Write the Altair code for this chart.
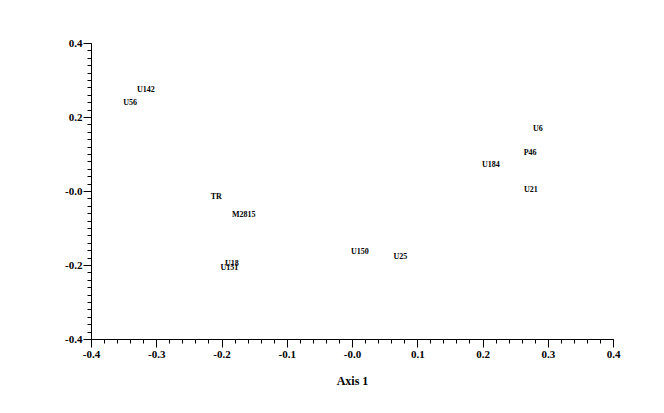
import altair as alt
import pandas as pd

labels = ["U142", "U56", "TR", "M2815", "U18", "U151", "U150", "U25", "U6", "P46", "U184", "U21"]
axis1 = [-0.316, -0.340, -0.208, -0.166, -0.184, -0.188, 0.012, 0.074, 0.285, 0.273, 0.213, 0.274]
axis2 = [0.272, 0.238, -0.016, -0.066, -0.196, -0.207, -0.165, -0.179, 0.167, 0.102, 0.070, 0.003]

major_x = [-0.4, -0.3, -0.2, -0.1, 0.0, 0.1, 0.2, 0.3, 0.4]
major_y = [-0.4, -0.2, 0.0, 0.2, 0.4]
minor_vals = [round(-0.4 + 0.02 * i, 2) for i in range(41)]

df = pd.DataFrame({"label": labels, "a1": axis1, "a2": axis2})

FONT = "Liberation Serif"
lab_expr = "datum.value == 0 ? '-0.0' : ((datum.value < 0 ? '-' : '') + format(abs(datum.value), '.1f'))"

xs = alt.Scale(domain=[-0.4, 0.4], nice=False, zero=False)
ys = alt.Scale(domain=[-0.4, 0.4], nice=False, zero=False)

texts = alt.Chart(df).mark_text(font=FONT, fontWeight="bold", fontSize=8, color="black").encode(
    x=alt.X("a1:Q", scale=xs, title="Axis 1",
            axis=alt.Axis(orient="bottom", values=major_x, labelExpr=lab_expr, tickSize=8,
                          labelPadding=1, grid=False, domainColor="black", tickColor="black",
                          labelColor="black", labelFont=FONT, labelFontWeight="bold", labelFontSize=11,
                          titleFont=FONT, titleFontWeight="bold", titleFontSize=12, titleColor="black",
                          titlePadding=16, labelFlush=False)),
    y=alt.Y("a2:Q", scale=ys, title=None,
            axis=alt.Axis(orient="left", values=major_y, labelExpr=lab_expr, tickSize=8,
                          labelPadding=1, grid=False, domainColor="black", tickColor="black",
                          labelColor="black", labelFont=FONT, labelFontWeight="bold", labelFontSize=11,
                          labelFlush=False)),
    text="label:N",
)

minor = alt.Chart(df).mark_point(opacity=0).encode(
    x=alt.X("a1:Q", scale=xs, title=None,
            axis=alt.Axis(orient="bottom", values=minor_vals, labels=False, domain=False,
                          tickSize=4, grid=False, tickColor="black")),
    y=alt.Y("a2:Q", scale=ys, title=None,
            axis=alt.Axis(orient="left", values=minor_vals, labels=False, domain=False,
                          tickSize=4, grid=False, tickColor="black")),
)

chart = alt.layer(texts, minor).resolve_axis(x="independent", y="independent").properties(
    width=522, height=296,
    autosize=alt.AutoSizeParams(type="none"),
    padding={"left": 83, "top": 35, "right": 30, "bottom": 50},
).configure(background="white", view=alt.ViewConfig(stroke=None))

chart.save("out.html", embed_options={"renderer": "svg", "actions": False})
